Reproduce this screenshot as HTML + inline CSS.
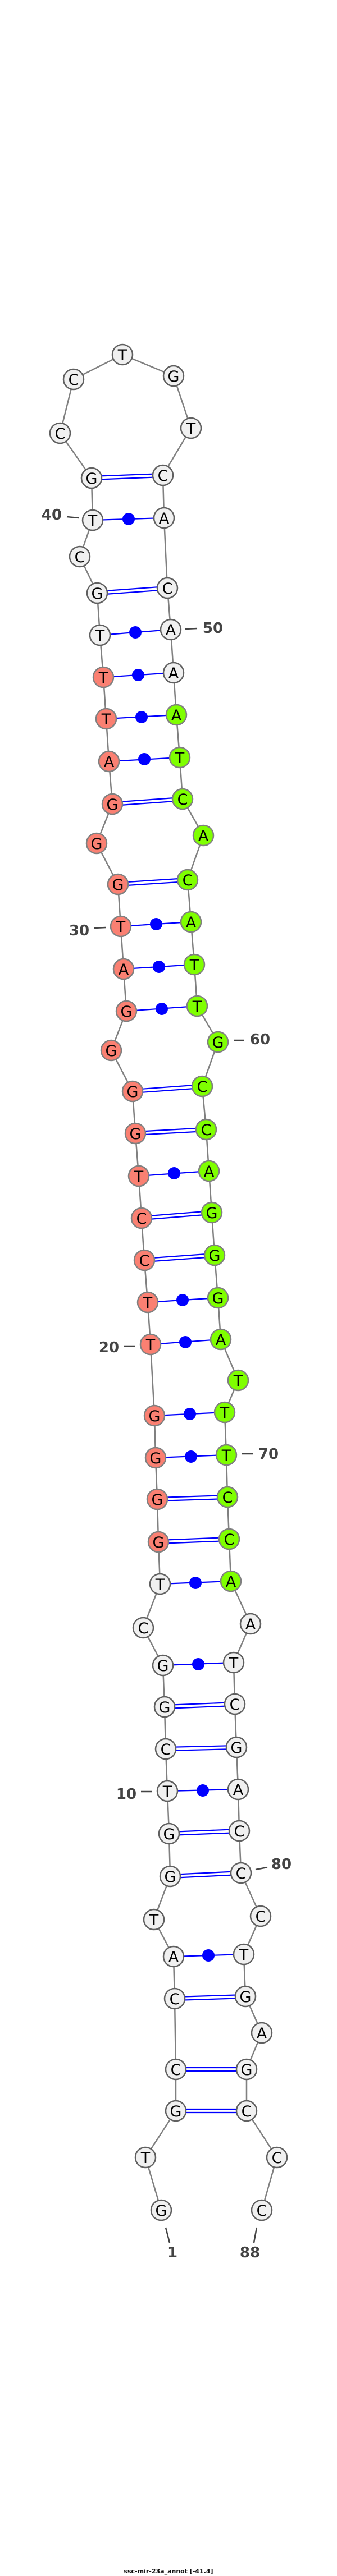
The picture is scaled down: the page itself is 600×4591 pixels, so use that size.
<!DOCTYPE html>
<html><head><meta charset="utf-8"><style>
html,body{margin:0;padding:0;background:#fff;}
svg{display:block;}
.b{fill:none;stroke:#808080;stroke-width:2.5;}
.p{stroke:#0000ff;stroke-width:2.2;}
.d{fill:#0000ff;}
.w{fill:#f0f0f0;stroke:#606060;stroke-width:2.5;}
.r{fill:#fa8072;stroke:#808080;stroke-width:2.5;}
.g{fill:#7fff00;stroke:#808080;stroke-width:2.5;}
.t text{font-family:"DejaVu Sans","Liberation Sans",sans-serif;font-size:27px;text-anchor:middle;fill:#000;}
.n{font-family:"DejaVu Sans","Liberation Sans",sans-serif;font-weight:bold;font-size:26px;fill:#444;text-anchor:middle;}
.k{stroke:#444;stroke-width:2.5;}
</style></head><body>
<svg width="600" height="4591" viewBox="0 0 600 4591" xmlns="http://www.w3.org/2000/svg">
<polyline class="b" points="287,3939 259,3845 313,3762 313,3688 311,3562 309,3487 274,3421 303,3344 301,3268 298,3192 295,3117 293,3042 290,2968 255,2901 285,2823 282,2748 280,2672 277,2598 275,2523 268,2396 263,2321 257,2246 252,2171 247,2096 241,2020 236,1945 198,1872 225,1802 220,1727 215,1651 210,1576 172,1503 200,1433 194,1357 189,1281 184,1207 178,1132 173,1057 142,992 165,927 163,852 107,772 131,676 218,632 309,670 340,763 290,847 292,923 298,1048 304,1122 309,1199 314,1274 320,1350 325,1424 362,1489 334,1568 340,1643 346,1719 351,1793 388,1857 360,1936 367,2013 372,2087 377,2161 382,2237 388,2313 393,2387 424,2460 400,2517 403,2593 405,2668 408,2743 411,2818 446,2894 416,2963 418,3037 421,3114 424,3189 426,3263 429,3338 464,3415 434,3483 437,3558 466,3623 439,3688 439,3762 493,3845 466,3939"/>
<!-- double (GC) pairs -->
<g class="p">
<line x1="163" y1="849" x2="290" y2="844"/><line x1="163" y1="855" x2="290" y2="850"/>
<line x1="173" y1="1054" x2="298" y2="1045"/><line x1="173" y1="1060" x2="298" y2="1051"/>
<line x1="200" y1="1430" x2="325" y2="1421"/><line x1="200" y1="1436" x2="325" y2="1427"/>
<line x1="210" y1="1573" x2="334" y2="1565"/><line x1="210" y1="1579" x2="334" y2="1571"/>
<line x1="236" y1="1942" x2="360" y2="1933"/><line x1="236" y1="1948" x2="360" y2="1939"/>
<line x1="241" y1="2017" x2="367" y2="2010"/><line x1="241" y1="2023" x2="367" y2="2016"/>
<line x1="252" y1="2168" x2="377" y2="2158"/><line x1="252" y1="2174" x2="377" y2="2164"/>
<line x1="257" y1="2243" x2="382" y2="2234"/><line x1="257" y1="2249" x2="382" y2="2240"/>
<line x1="280" y1="2669" x2="405" y2="2665"/><line x1="280" y1="2675" x2="405" y2="2671"/>
<line x1="282" y1="2745" x2="408" y2="2740"/><line x1="282" y1="2751" x2="408" y2="2746"/>
<line x1="293" y1="3039" x2="418" y2="3034"/><line x1="293" y1="3045" x2="418" y2="3040"/>
<line x1="295" y1="3114" x2="421" y2="3111"/><line x1="295" y1="3120" x2="421" y2="3117"/>
<line x1="301" y1="3265" x2="426" y2="3260"/><line x1="301" y1="3271" x2="426" y2="3266"/>
<line x1="303" y1="3341" x2="429" y2="3335"/><line x1="303" y1="3347" x2="429" y2="3341"/>
<line x1="311" y1="3559" x2="437" y2="3555"/><line x1="311" y1="3565" x2="437" y2="3561"/>
<line x1="313" y1="3685" x2="439" y2="3685"/><line x1="313" y1="3691" x2="439" y2="3691"/>
<line x1="313" y1="3759" x2="439" y2="3759"/><line x1="313" y1="3765" x2="439" y2="3765"/>
</g>
<!-- single (AT/GT) pairs -->
<g class="p">
<line x1="165" y1="927" x2="292" y2="923"/>
<line x1="178" y1="1132" x2="304" y2="1122"/>
<line x1="184" y1="1207" x2="309" y2="1199"/>
<line x1="189" y1="1281" x2="314" y2="1274"/>
<line x1="194" y1="1357" x2="320" y2="1350"/>
<line x1="215" y1="1651" x2="340" y2="1643"/>
<line x1="220" y1="1727" x2="346" y2="1719"/>
<line x1="225" y1="1802" x2="351" y2="1793"/>
<line x1="247" y1="2096" x2="372" y2="2087"/>
<line x1="263" y1="2321" x2="388" y2="2313"/>
<line x1="268" y1="2396" x2="393" y2="2387"/>
<line x1="275" y1="2523" x2="400" y2="2517"/>
<line x1="277" y1="2598" x2="403" y2="2593"/>
<line x1="285" y1="2823" x2="411" y2="2818"/>
<line x1="290" y1="2968" x2="416" y2="2963"/>
<line x1="298" y1="3192" x2="424" y2="3189"/>
<line x1="309" y1="3487" x2="434" y2="3483"/>
</g>
<g class="d">
<circle cx="229" cy="925" r="11"/>
<circle cx="241" cy="1127" r="11"/>
<circle cx="246" cy="1203" r="11"/>
<circle cx="252" cy="1278" r="11"/>
<circle cx="257" cy="1353" r="11"/>
<circle cx="278" cy="1647" r="11"/>
<circle cx="283" cy="1723" r="11"/>
<circle cx="288" cy="1798" r="11"/>
<circle cx="310" cy="2091" r="11"/>
<circle cx="325" cy="2317" r="11"/>
<circle cx="330" cy="2392" r="11"/>
<circle cx="338" cy="2520" r="11"/>
<circle cx="340" cy="2596" r="11"/>
<circle cx="348" cy="2821" r="11"/>
<circle cx="353" cy="2966" r="11"/>
<circle cx="361" cy="3191" r="11"/>
<circle cx="371" cy="3485" r="11"/>
</g>
<!-- nodes -->
<g class="t">
<circle class="w" cx="287" cy="3939" r="18"/><text x="287" y="3949">G</text>
<circle class="w" cx="259" cy="3845" r="18"/><text x="259" y="3855">T</text>
<circle class="w" cx="313" cy="3762" r="18"/><text x="313" y="3772">G</text>
<circle class="w" cx="313" cy="3688" r="18"/><text x="313" y="3698">C</text>
<circle class="w" cx="311" cy="3562" r="18"/><text x="311" y="3572">C</text>
<circle class="w" cx="309" cy="3487" r="18"/><text x="309" y="3497">A</text>
<circle class="w" cx="274" cy="3421" r="18"/><text x="274" y="3431">T</text>
<circle class="w" cx="303" cy="3344" r="18"/><text x="303" y="3354">G</text>
<circle class="w" cx="301" cy="3268" r="18"/><text x="301" y="3278">G</text>
<circle class="w" cx="298" cy="3192" r="18"/><text x="298" y="3202">T</text>
<circle class="w" cx="295" cy="3117" r="18"/><text x="295" y="3127">C</text>
<circle class="w" cx="293" cy="3042" r="18"/><text x="293" y="3052">G</text>
<circle class="w" cx="290" cy="2968" r="18"/><text x="290" y="2978">G</text>
<circle class="w" cx="255" cy="2901" r="18"/><text x="255" y="2911">C</text>
<circle class="w" cx="285" cy="2823" r="18"/><text x="285" y="2833">T</text>
<circle class="r" cx="282" cy="2748" r="18"/><text x="282" y="2758">G</text>
<circle class="r" cx="280" cy="2672" r="18"/><text x="280" y="2682">G</text>
<circle class="r" cx="277" cy="2598" r="18"/><text x="277" y="2608">G</text>
<circle class="r" cx="275" cy="2523" r="18"/><text x="275" y="2533">G</text>
<circle class="r" cx="268" cy="2396" r="18"/><text x="268" y="2406">T</text>
<circle class="r" cx="263" cy="2321" r="18"/><text x="263" y="2331">T</text>
<circle class="r" cx="257" cy="2246" r="18"/><text x="257" y="2256">C</text>
<circle class="r" cx="252" cy="2171" r="18"/><text x="252" y="2181">C</text>
<circle class="r" cx="247" cy="2096" r="18"/><text x="247" y="2106">T</text>
<circle class="r" cx="241" cy="2020" r="18"/><text x="241" y="2030">G</text>
<circle class="r" cx="236" cy="1945" r="18"/><text x="236" y="1955">G</text>
<circle class="r" cx="198" cy="1872" r="18"/><text x="198" y="1882">G</text>
<circle class="r" cx="225" cy="1802" r="18"/><text x="225" y="1812">G</text>
<circle class="r" cx="220" cy="1727" r="18"/><text x="220" y="1737">A</text>
<circle class="r" cx="215" cy="1651" r="18"/><text x="215" y="1661">T</text>
<circle class="r" cx="210" cy="1576" r="18"/><text x="210" y="1586">G</text>
<circle class="r" cx="172" cy="1503" r="18"/><text x="172" y="1513">G</text>
<circle class="r" cx="200" cy="1433" r="18"/><text x="200" y="1443">G</text>
<circle class="r" cx="194" cy="1357" r="18"/><text x="194" y="1367">A</text>
<circle class="r" cx="189" cy="1281" r="18"/><text x="189" y="1291">T</text>
<circle class="r" cx="184" cy="1207" r="18"/><text x="184" y="1217">T</text>
<circle class="w" cx="178" cy="1132" r="18"/><text x="178" y="1142">T</text>
<circle class="w" cx="173" cy="1057" r="18"/><text x="173" y="1067">G</text>
<circle class="w" cx="142" cy="992" r="18"/><text x="142" y="1002">C</text>
<circle class="w" cx="165" cy="927" r="18"/><text x="165" y="937">T</text>
<circle class="w" cx="163" cy="852" r="18"/><text x="163" y="862">G</text>
<circle class="w" cx="107" cy="772" r="18"/><text x="107" y="782">C</text>
<circle class="w" cx="131" cy="676" r="18"/><text x="131" y="686">C</text>
<circle class="w" cx="218" cy="632" r="18"/><text x="218" y="642">T</text>
<circle class="w" cx="309" cy="670" r="18"/><text x="309" y="680">G</text>
<circle class="w" cx="340" cy="763" r="18"/><text x="340" y="773">T</text>
<circle class="w" cx="290" cy="847" r="18"/><text x="290" y="857">C</text>
<circle class="w" cx="292" cy="923" r="18"/><text x="292" y="933">A</text>
<circle class="w" cx="298" cy="1048" r="18"/><text x="298" y="1058">C</text>
<circle class="w" cx="304" cy="1122" r="18"/><text x="304" y="1132">A</text>
<circle class="w" cx="309" cy="1199" r="18"/><text x="309" y="1209">A</text>
<circle class="g" cx="314" cy="1274" r="18"/><text x="314" y="1284">A</text>
<circle class="g" cx="320" cy="1350" r="18"/><text x="320" y="1360">T</text>
<circle class="g" cx="325" cy="1424" r="18"/><text x="325" y="1434">C</text>
<circle class="g" cx="362" cy="1489" r="18"/><text x="362" y="1499">A</text>
<circle class="g" cx="334" cy="1568" r="18"/><text x="334" y="1578">C</text>
<circle class="g" cx="340" cy="1643" r="18"/><text x="340" y="1653">A</text>
<circle class="g" cx="346" cy="1719" r="18"/><text x="346" y="1729">T</text>
<circle class="g" cx="351" cy="1793" r="18"/><text x="351" y="1803">T</text>
<circle class="g" cx="388" cy="1857" r="18"/><text x="388" y="1867">G</text>
<circle class="g" cx="360" cy="1936" r="18"/><text x="360" y="1946">C</text>
<circle class="g" cx="367" cy="2013" r="18"/><text x="367" y="2023">C</text>
<circle class="g" cx="372" cy="2087" r="18"/><text x="372" y="2097">A</text>
<circle class="g" cx="377" cy="2161" r="18"/><text x="377" y="2171">G</text>
<circle class="g" cx="382" cy="2237" r="18"/><text x="382" y="2247">G</text>
<circle class="g" cx="388" cy="2313" r="18"/><text x="388" y="2323">G</text>
<circle class="g" cx="393" cy="2387" r="18"/><text x="393" y="2397">A</text>
<circle class="g" cx="424" cy="2460" r="18"/><text x="424" y="2470">T</text>
<circle class="g" cx="400" cy="2517" r="18"/><text x="400" y="2527">T</text>
<circle class="g" cx="403" cy="2593" r="18"/><text x="403" y="2603">T</text>
<circle class="g" cx="405" cy="2668" r="18"/><text x="405" y="2678">C</text>
<circle class="g" cx="408" cy="2743" r="18"/><text x="408" y="2753">C</text>
<circle class="g" cx="411" cy="2818" r="18"/><text x="411" y="2828">A</text>
<circle class="w" cx="446" cy="2894" r="18"/><text x="446" y="2904">A</text>
<circle class="w" cx="416" cy="2963" r="18"/><text x="416" y="2973">T</text>
<circle class="w" cx="418" cy="3037" r="18"/><text x="418" y="3047">C</text>
<circle class="w" cx="421" cy="3114" r="18"/><text x="421" y="3124">G</text>
<circle class="w" cx="424" cy="3189" r="18"/><text x="424" y="3199">A</text>
<circle class="w" cx="426" cy="3263" r="18"/><text x="426" y="3273">C</text>
<circle class="w" cx="429" cy="3338" r="18"/><text x="429" y="3348">C</text>
<circle class="w" cx="464" cy="3415" r="18"/><text x="464" y="3425">C</text>
<circle class="w" cx="434" cy="3483" r="18"/><text x="434" y="3493">T</text>
<circle class="w" cx="437" cy="3558" r="18"/><text x="437" y="3568">G</text>
<circle class="w" cx="466" cy="3623" r="18"/><text x="466" y="3633">A</text>
<circle class="w" cx="439" cy="3688" r="18"/><text x="439" y="3698">G</text>
<circle class="w" cx="439" cy="3762" r="18"/><text x="439" y="3772">C</text>
<circle class="w" cx="493" cy="3845" r="18"/><text x="493" y="3855">C</text>
<circle class="w" cx="466" cy="3939" r="18"/><text x="466" y="3949">C</text>
</g>
<!-- number labels -->
<g class="k">
<line x1="119" y1="921" x2="140" y2="923"/>
<line x1="330" y1="1121" x2="351" y2="1120"/>
<line x1="168" y1="1654" x2="188" y2="1653"/>
<line x1="416" y1="1854" x2="435" y2="1854"/>
<line x1="221" y1="2399" x2="241" y2="2399"/>
<line x1="430" y1="2591" x2="450" y2="2591"/>
<line x1="251" y1="3193" x2="271" y2="3193"/>
<line x1="455" y1="3332" x2="476" y2="3328"/>
<line x1="295" y1="3970" x2="302" y2="3997"/>
<line x1="457" y1="3970" x2="452" y2="3997"/>
</g>
<text class="n" x="92" y="926">40</text>
<text class="n" x="379" y="1128">50</text>
<text class="n" x="141" y="1667">30</text>
<text class="n" x="463" y="1861">60</text>
<text class="n" x="194" y="2410">20</text>
<text class="n" x="478" y="2600">70</text>
<text class="n" x="225" y="3206">10</text>
<text class="n" x="501" y="3331">80</text>
<text class="n" x="307" y="4023">1</text>
<text class="n" x="445" y="4023">88</text>
<text x="300" y="4586" style="font-family:'DejaVu Sans','Liberation Sans',sans-serif;font-weight:bold;font-size:11px;fill:#111;text-anchor:middle">ssc-mir-23a_annot [-41.4]</text>
</svg>
</body></html>
